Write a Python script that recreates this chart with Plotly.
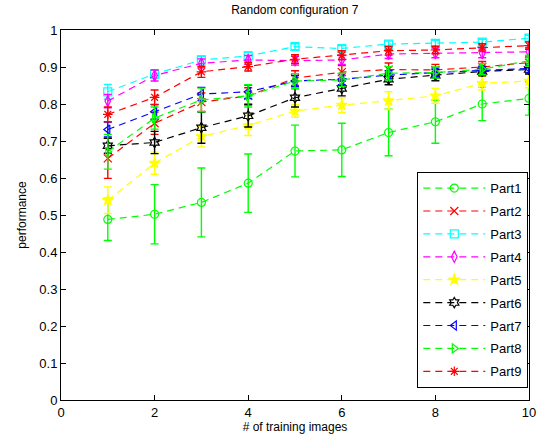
import plotly.graph_objects as go

x_vals = [1, 2, 3, 4, 5, 6, 7, 8, 9, 10]

part1 = [0.488, 0.502, 0.534, 0.586, 0.673, 0.676, 0.723, 0.752, 0.800, 0.815]
part1_err = [0.057, 0.080, 0.093, 0.079, 0.070, 0.072, 0.063, 0.058, 0.045, 0.045]
part2 = [0.653, 0.748, 0.805, 0.822, 0.870, 0.886, 0.893, 0.892, 0.900, 0.912]
part2_err = [0.054, 0.030, 0.025, 0.022, 0.020, 0.018, 0.018, 0.015, 0.015, 0.015]
part3 = [0.833, 0.881, 0.919, 0.930, 0.955, 0.950, 0.962, 0.964, 0.967, 0.978]
part3_err = [0.020, 0.012, 0.010, 0.010, 0.008, 0.008, 0.008, 0.008, 0.008, 0.008]
part4 = [0.808, 0.877, 0.910, 0.919, 0.917, 0.919, 0.935, 0.937, 0.937, 0.941]
part4_err = [0.018, 0.015, 0.012, 0.012, 0.012, 0.012, 0.012, 0.012, 0.012, 0.012]
part5 = [0.540, 0.640, 0.712, 0.742, 0.781, 0.797, 0.809, 0.822, 0.856, 0.862]
part5_err = [0.036, 0.030, 0.028, 0.027, 0.017, 0.020, 0.024, 0.020, 0.018, 0.018]
part6 = [0.687, 0.696, 0.736, 0.768, 0.817, 0.842, 0.867, 0.878, 0.888, 0.893]
part6_err = [0.020, 0.030, 0.042, 0.030, 0.025, 0.020, 0.015, 0.015, 0.012, 0.012]
part7 = [0.731, 0.779, 0.827, 0.833, 0.862, 0.867, 0.878, 0.885, 0.890, 0.896]
part7_err = [0.020, 0.020, 0.018, 0.018, 0.015, 0.015, 0.012, 0.012, 0.012, 0.012]
part8 = [0.671, 0.762, 0.811, 0.822, 0.862, 0.865, 0.883, 0.885, 0.894, 0.917]
part8_err = [0.047, 0.030, 0.032, 0.030, 0.020, 0.018, 0.018, 0.015, 0.015, 0.015]
part9 = [0.772, 0.818, 0.887, 0.901, 0.921, 0.932, 0.944, 0.946, 0.953, 0.958]
part9_err = [0.020, 0.020, 0.015, 0.012, 0.012, 0.012, 0.012, 0.010, 0.010, 0.010]

series = [
    ("Part1", part1, part1_err, "#00ff00", "circle-open"),
    ("Part2", part2, part2_err, "#ff0000", "x-thin-open"),
    ("Part3", part3, part3_err, "#00ffff", "square-open"),
    ("Part4", part4, part4_err, "#ff00ff", "diamond-tall-open"),
    ("Part5", part5, part5_err, "#ffff00", "star"),
    ("Part6", part6, part6_err, "#000000", "hexagram-open"),
    ("Part7", part7, part7_err, "#0000ff", "triangle-left-open"),
    ("Part8", part8, part8_err, "#00ff00", "triangle-right-open"),
    ("Part9", part9, part9_err, "#ff0000", "asterisk-open"),
]

fig = go.Figure()
for name, vals, errs, color, sym in series:
    fig.add_trace(go.Scatter(
        x=x_vals, y=vals, name=name, mode="lines+markers", legendgroup=name,
        line=dict(color=color, width=1.2, dash="7px,5px"),
        marker=dict(symbol=sym, size=8, color=color, line=dict(color=color, width=1.2)),
        error_y=dict(type="data", array=errs, visible=True, color=color, thickness=1.4, width=4),
    ))

font_main = "Liberation Sans, Arial, sans-serif"
fig.update_layout(
    width=545, height=440,
    margin=dict(l=61, r=16, t=30, b=40, autoexpand=False),
    paper_bgcolor="white", plot_bgcolor="white",
    font=dict(family=font_main, size=12, color="#000000"),
    title=dict(text="Random configuration 7", x=0.541, xanchor="center",
               yref="container", y=1 - 6 / 440, yanchor="top",
               font=dict(size=12, family=font_main)),
    showlegend=True,
    legend=dict(x=0.9985, xanchor="right", y=0.032, yanchor="bottom",
                bgcolor="white", bordercolor="black", borderwidth=1,
                font=dict(size=13, family=font_main), itemwidth=62, tracegroupgap=3),
)
fig.update_xaxes(range=[0, 10], dtick=2, tick0=0, showgrid=False, zeroline=False,
                 showline=True, linecolor="black", linewidth=1, mirror="allticks",
                 ticks="inside", ticklen=5, tickcolor="black", automargin=False,
                 title=dict(text="# of training images", standoff=4, font=dict(size=12)),
                 tickfont=dict(size=13))
fig.update_yaxes(range=[0, 1], dtick=0.1, tick0=0, showgrid=False, zeroline=False,
                 showline=True, linecolor="black", linewidth=1, mirror="allticks",
                 ticks="inside", ticklen=5, tickcolor="black", automargin=False,
                 title=dict(text="performance", standoff=10, font=dict(size=12)),
                 tickfont=dict(size=13))

fig.write_html("out.html", config={"displayModeBar": False},
               post_script="document.body.style.margin='0';document.body.style.padding='0';")
